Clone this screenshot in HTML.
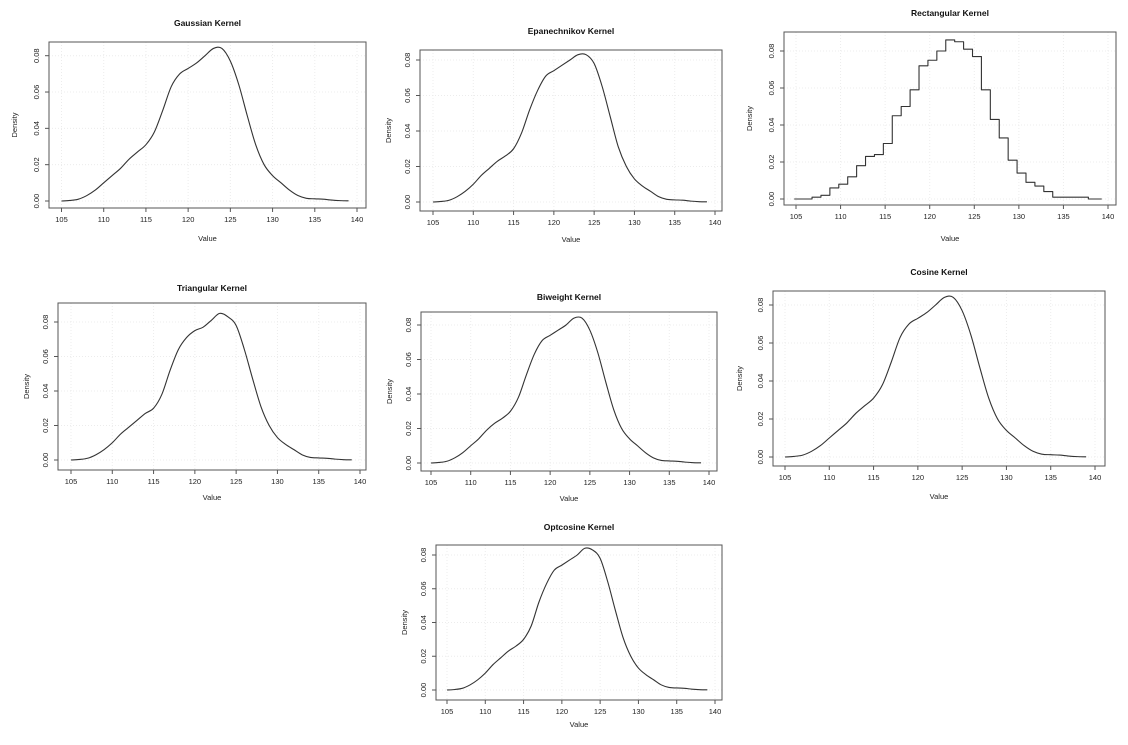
<!DOCTYPE html>
<html><head><meta charset="utf-8"><style>
html,body{margin:0;padding:0;background:#fff;}
svg{display:block;font-family:"Liberation Sans",sans-serif;}
</style></head><body>
<svg id="fig" width="1128" height="745" viewBox="0 0 1128 745"></svg>
<script>
const xs = [105,106,107,108,109,110,111,112,113,114,115,116,117,118,119,120,121,122,123,124,125,126,127,128,129,130,131,132,133,134,135,136,137,138,139];
const gaussian = [0,0.0003,0.001,0.003,0.006,0.01,0.014,0.018,0.023,0.027,0.031,0.038,0.05,0.063,0.07,0.073,0.076,0.08,0.084,0.084,0.077,0.064,0.047,0.031,0.02,0.014,0.01,0.006,0.003,0.0015,0.0012,0.001,0.0005,0.0002,0.0001];
const epanechnikov = [0,0.0003,0.001,0.003,0.006,0.01,0.015,0.019,0.023,0.026,0.03,0.039,0.052,0.063,0.071,0.074,0.077,0.08,0.083,0.083,0.078,0.065,0.048,0.031,0.02,0.013,0.009,0.006,0.003,0.0015,0.0012,0.001,0.0005,0.0002,0.0001];
const triangular = [0,0.0003,0.001,0.003,0.006,0.01,0.015,0.019,0.023,0.027,0.03,0.038,0.052,0.064,0.071,0.075,0.077,0.081,0.085,0.083,0.078,0.064,0.047,0.031,0.02,0.013,0.009,0.006,0.003,0.0015,0.0012,0.001,0.0005,0.0002,0.0001];
const biweight = [0,0.0003,0.001,0.003,0.006,0.01,0.014,0.019,0.023,0.026,0.03,0.038,0.051,0.063,0.071,0.074,0.077,0.08,0.084,0.084,0.077,0.064,0.047,0.031,0.02,0.014,0.01,0.006,0.003,0.0015,0.0012,0.001,0.0005,0.0002,0.0001];
const cosine = [0,0.0003,0.001,0.003,0.006,0.01,0.014,0.018,0.023,0.027,0.031,0.038,0.05,0.063,0.07,0.073,0.076,0.08,0.084,0.084,0.077,0.064,0.047,0.031,0.02,0.014,0.01,0.006,0.003,0.0015,0.0012,0.001,0.0005,0.0002,0.0001];
const optcosine = [0,0.0003,0.001,0.003,0.006,0.01,0.015,0.019,0.023,0.026,0.03,0.038,0.052,0.063,0.071,0.074,0.077,0.08,0.084,0.083,0.078,0.064,0.047,0.031,0.02,0.013,0.009,0.006,0.003,0.0015,0.0012,0.001,0.0005,0.0002,0.0001];
const rectBins = [105,107,108,109,110,111,112,113,114,115,116,117,118,119,120,121,122,123,124,125,126,127,128,129,130,131,132,133,134,138];
const rectVals = [0,0.001,0.002,0.006,0.008,0.012,0.018,0.023,0.024,0.03,0.045,0.05,0.059,0.072,0.075,0.08,0.086,0.085,0.081,0.077,0.059,0.043,0.033,0.021,0.014,0.009,0.007,0.004,0.001,0];
const xTicks = [105,110,115,120,125,130,135,140];
const yTicks = [0,0.02,0.04,0.06,0.08];
const yTickLabels = ["0.00","0.02","0.04","0.06","0.08"];

const NS = "http://www.w3.org/2000/svg";
const svg = document.getElementById("fig");
function mk(tag, attrs, parent){const e=document.createElementNS(NS,tag);for(const k in attrs)e.setAttribute(k,attrs[k]);(parent||svg).appendChild(e);return e;}

const panels = [
 {key:"gaussian",title:"Gaussian Kernel",box:[49,42,366,208],x105:61.5,x140:357,y0:201,y8:55.7,ty:23,vy:238,dx:17,ys:gaussian},
 {key:"epanechnikov",title:"Epanechnikov Kernel",box:[420,50,722,211],x105:433,x140:715,y0:202,y8:60,ty:31,vy:239,dx:391,ys:epanechnikov},
 {key:"rectangular",title:"Rectangular Kernel",box:[784,32,1116,205],x105:796,x140:1108,y0:199,y8:51,ty:13,vy:238,dx:752,rect:true},
 {key:"triangular",title:"Triangular Kernel",box:[58,303,366,470],x105:71,x140:360,y0:460,y8:322,ty:288,vy:497,dx:29,ys:triangular},
 {key:"biweight",title:"Biweight Kernel",box:[421,312,717,471],x105:431,x140:709,y0:463,y8:325,ty:297,vy:498,dx:392,ys:biweight},
 {key:"cosine",title:"Cosine Kernel",box:[773,291,1105,466],x105:785,x140:1095,y0:457,y8:305,ty:272,vy:496,dx:742,ys:cosine},
 {key:"optcosine",title:"Optcosine Kernel",box:[436,545,722,700],x105:447,x140:715,y0:690,y8:555,ty:527,vy:724,dx:407,ys:optcosine}
];

function smoothPath(pts){
  let d="M"+pts[0][0]+","+pts[0][1];
  for(let i=0;i<pts.length-1;i++){
    const p0=pts[Math.max(0,i-1)],p1=pts[i],p2=pts[i+1],p3=pts[Math.min(pts.length-1,i+2)];
    const c1x=p1[0]+(p2[0]-p0[0])/6,c1y=p1[1]+(p2[1]-p0[1])/6;
    const c2x=p2[0]-(p3[0]-p1[0])/6,c2y=p2[1]-(p3[1]-p1[1])/6;
    d+="C"+c1x+","+c1y+" "+c2x+","+c2y+" "+p2[0]+","+p2[1];
  }
  return d;
}

panels.forEach(p=>{
  const g = mk("g",{});
  
  
  const sx = v => p.x105 + (v-105)*(p.x140-p.x105)/35;
  const sy = v => p.y0 + v*(p.y8-p.y0)/0.08;
  const [l,t,r,b] = p.box;
  xTicks.forEach(v=>{const gl=mk("line",{x1:sx(v),x2:sx(v),y1:t,y2:b,stroke:"#ececec","stroke-dasharray":"1,2"},g);});
  yTicks.forEach(v=>{const gl=mk("line",{x1:l,x2:r,y1:sy(v),y2:sy(v),stroke:"#ececec","stroke-dasharray":"1,2"},g);});
  let d="";
  if(p.rect){
    rectBins.forEach((x,i)=>{const nx = i<rectBins.length-1?rectBins[i+1]:139.5;
      d += (i?"L":"M")+sx(x-0.2)+","+sy(rectVals[i])+"L"+sx(nx-0.2)+","+sy(rectVals[i]);});
  } else {
    d = smoothPath(p.ys.map((v,i)=>[sx(xs[i]),sy(v)]));
  }
  const line = mk("path",{d:d,fill:"none",stroke:"#333",'stroke-width':1.1,'stroke-linejoin':'round'},g);
  
  
  const box = mk("rect",{x:l,y:t,width:r-l,height:b-t,fill:"none",stroke:"#555","stroke-width":1},g);
  
  
  xTicks.forEach(v=>{
    mk("line",{x1:sx(v),x2:sx(v),y1:b,y2:b+4,stroke:"#555"},g);
    const tx = mk("text",{x:sx(v),y:b+14,"font-size":7.5,"text-anchor":"middle",fill:"#222"},g);
    tx.textContent=v;
    
    
  });
  yTicks.forEach((v,i)=>{
    mk("line",{x1:l-4,x2:l,y1:sy(v),y2:sy(v),stroke:"#555"},g);
    const lx = l-10;
    const tx = mk("text",{x:lx,y:sy(v),"font-size":7.5,"text-anchor":"middle",fill:"#222",transform:`rotate(-90 ${lx} ${sy(v)})`},g);
    tx.textContent=yTickLabels[i];
    
    
  });
  const ti = mk("text",{x:(l+r)/2,y:p.ty+3,"font-size":8.5,"font-weight":"bold","text-anchor":"middle",fill:"#111"},g);
  ti.textContent=p.title;
  
  
  const xl = mk("text",{x:(l+r)/2,y:p.vy+3,"font-size":7.5,"text-anchor":"middle",fill:"#222"},g);
  xl.textContent="Value";
  
  
  const yc=(t+b)/2;
  const yl = mk("text",{x:p.dx,y:yc,"font-size":7.5,"text-anchor":"middle",fill:"#222",transform:`rotate(-90 ${p.dx} ${yc})`},g);
  yl.textContent="Density";
  
  
});
</script>
</body></html>
